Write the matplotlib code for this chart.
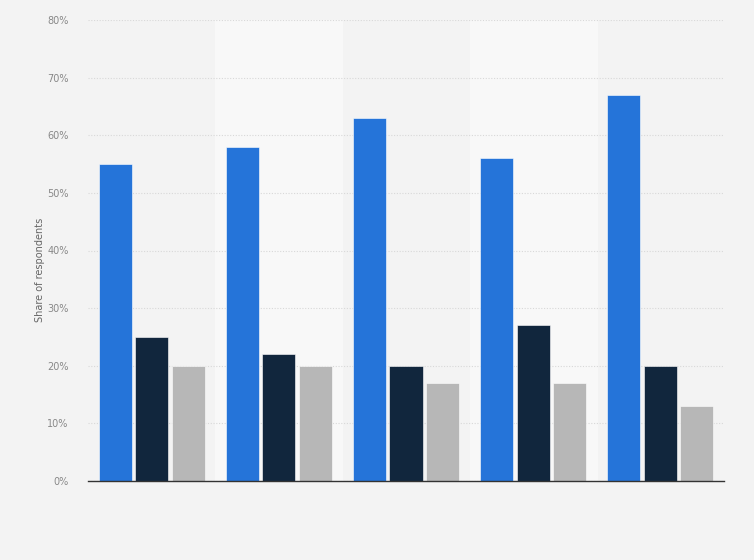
import matplotlib
matplotlib.use("Agg")
import matplotlib.pyplot as plt
import numpy as np

# values (percent)
groups = ["1", "2", "3", "4", "5"]
series_a = [55, 58, 63, 56, 67]
series_b = [25, 22, 20, 27, 20]
series_c = [20, 20, 17, 17, 13]
colors = ["#2574d9", "#11263d", "#b7b7b7"]
yticks = [0, 10, 20, 30, 40, 50, 60, 70, 80]

fig = plt.figure(figsize=(7.54, 5.6), dpi=100)
fig.patch.set_facecolor("#f3f3f3")
ax = fig.add_axes([88 / 754, 79 / 560, 636 / 754, 461 / 560])
ax.set_facecolor("#f3f3f3")

x = np.arange(len(groups))
w = 0.26
off = 0.287

# alternating lighter bands behind groups 2 and 4
for i in x:
    if i % 2 == 1:
        ax.axvspan(i - 0.5, i + 0.5, color="#f8f8f8", zorder=0)

for k, vals in enumerate([series_a, series_b, series_c]):
    ax.bar(x + (k - 1) * off, vals, width=w, color=colors[k],
           edgecolor="white", linewidth=0.4, zorder=3)

ax.set_xlim(-0.5, len(groups) - 0.5)
ax.set_ylim(0, 80)
ax.set_yticks(yticks)
ax.set_yticklabels([f"{t}%" for t in yticks], fontsize=7, color="#888888")
ax.set_xticks([])
ax.yaxis.grid(True, linestyle=(0, (1, 1.5)), color="#d8d8d8", linewidth=0.8, zorder=1)
ax.tick_params(axis="y", length=0, pad=14)
for s in ["top", "right", "left"]:
    ax.spines[s].set_visible(False)
ax.spines["bottom"].set_color("#333333")
ax.spines["bottom"].set_linewidth(1.0)
ax.spines["bottom"].set_zorder(4)

fig.text(40 / 754, 0.5 + 10 / 560, "Share of respondents", rotation=90,
         fontsize=7, color="#666666", ha="center", va="center")

fig.savefig("out.png", dpi=100, facecolor=fig.get_facecolor())
